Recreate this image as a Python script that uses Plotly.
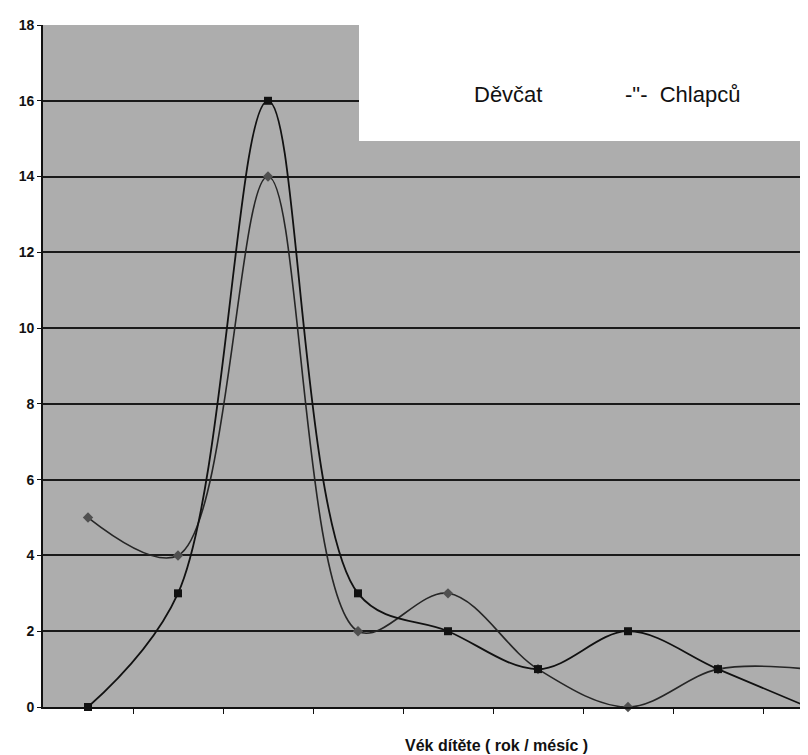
import plotly.graph_objects as go

categories = [1, 2, 3, 4, 5, 6, 7, 8, 9]
devcat = [5, 4, 14, 2, 3, 1, 0, 1, 1]
chlapcu = [0, 3, 16, 3, 2, 1, 2, 1, 0]
y_ticks = [0, 2, 4, 6, 8, 10, 12, 14, 16, 18]

L, R_EDGE, TOP, BOT = 35, 808, 17, 699
PW, PH = R_EDGE - L, BOT - TOP

def px(xp):
    return (xp - L) / PW

def py(yp):
    return (BOT - yp) / PH

fig = go.Figure()
fig.add_trace(go.Scatter(
    x=categories, y=devcat, mode="lines+markers", name="Děvčat",
    line=dict(color="#262626", width=1.6, shape="spline", smoothing=1.0),
    marker=dict(symbol="diamond", size=8, color="#505050"),
    cliponaxis=False, showlegend=False,
))
fig.add_trace(go.Scatter(
    x=categories, y=chlapcu, mode="lines+markers", name="Chlapců",
    line=dict(color="#111111", width=1.8, shape="spline", smoothing=1.0),
    marker=dict(symbol="square", size=8, color="#111111"),
    cliponaxis=False, showlegend=False,
))

# white legend box overlapping the plot
fig.add_shape(type="rect", xref="paper", yref="paper",
              x0=px(351), x1=1.0, y0=py(133), y1=py(-5),
              fillcolor="white", line=dict(width=0), layer="above")
fig.add_annotation(text="Děvčat", xref="paper", yref="paper",
                   x=px(500), y=py(72), showarrow=False,
                   font=dict(family="Liberation Sans, Arial", size=22, color="#111"))
fig.add_annotation(text='-"-  Chlapců', xref="paper", yref="paper",
                   x=px(734), y=py(72), showarrow=False,
                   font=dict(family="Liberation Sans, Arial", size=22, color="#111"))
fig.add_annotation(text="Vék dítěte ( rok / mésíc )", xref="paper", yref="paper",
                   x=px(488), y=py(748), showarrow=False,
                   font=dict(family="Liberation Sans, Arial", size=16,
                             weight="bold", color="#111"))

fig.update_layout(
    width=808, height=755,
    margin=dict(l=L, r=0, t=TOP, b=755 - BOT),
    paper_bgcolor="white", plot_bgcolor="#adadad",
    font=dict(family="Liberation Sans, Arial", color="#111"),
    xaxis=dict(
        range=[0.5, 0.5 + PW / 90.0], showgrid=False, zeroline=False,
        showline=True, linecolor="#111", linewidth=1.8, automargin=False,
        tickmode="array", tickvals=[c + 0.5 for c in categories],
        showticklabels=False, ticks="outside", ticklen=5, tickcolor="#111",
    ),
    yaxis=dict(
        range=[0, 18], tickvals=y_ticks, showgrid=True, gridcolor="#1a1a1a",
        gridwidth=1.5, zeroline=False, showline=True, linecolor="#111",
        linewidth=1.8, ticks="outside", ticklen=4, tickcolor="#111",
        automargin=False,
        tickfont=dict(size=14, weight="bold", color="#111"),
    ),
)

fig.write_html("out.html")
